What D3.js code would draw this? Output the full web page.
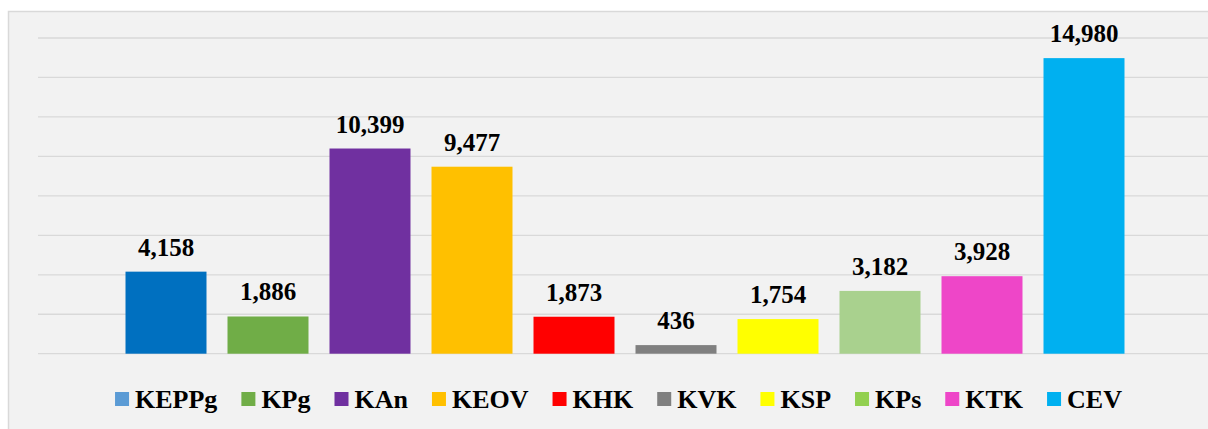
<!DOCTYPE html>
<html>
<head>
<meta charset="utf-8">
<script src="https://cdn.jsdelivr.net/npm/d3@7"></script>
<style>
  html, body { margin: 0; padding: 0; background: #fff; }
  svg { display: block; }
  svg text { font-family: 'Liberation Serif', 'Times New Roman', serif; font-weight: bold; fill: #000; }
</style>
</head>
<body>
<div id="chart"></div>
<script>
// ── Data ──
const categories = ['KEPPg', 'KPg', 'KAn', 'KEOV', 'KHK', 'KVK', 'KSP', 'KPs', 'KTK', 'CEV'];
const values = [4158, 1886, 10399, 9477, 1873, 436, 1754, 3182, 3928, 14980];
const barColors = ['#0070C0', '#70AD47', '#7030A0', '#FFC000', '#FF0000', '#808080', '#FFFF00', '#A9D18E', '#EE46C8', '#00B0F0'];
const legendColors = ['#5B9BD5', '#70AD47', '#7030A0', '#FFC000', '#FF0000', '#808080', '#FFFF00', '#92D050', '#EE46C8', '#00B0F0'];
const yTicks = [0, 2000, 4000, 6000, 8000, 10000, 12000, 14000, 16000];

const width = 1208, height = 429;

const svg = d3.select('#chart').append('svg')
    .attr('width', width)
    .attr('height', height);

// Chart area background + border (runs past the right/bottom edge)
svg.append('rect')
    .attr('x', 8.5).attr('y', 11.5)
    .attr('width', width + 10).attr('height', height + 10)
    .attr('fill', '#f2f2f2')
    .attr('stroke', '#d9d9d9')
    .attr('stroke-width', 1.5);

const x = d3.scaleBand()
    .domain(categories)
    .range([115, 1135])
    .paddingInner(0.206)
    .paddingOuter(0.103);

const y = d3.scaleLinear()
    .domain([0, 16000])
    .range([353.7, 38]);

// Gridlines
svg.append('g')
    .selectAll('line')
    .data(yTicks)
    .join('line')
    .attr('x1', 38).attr('x2', width + 5)
    .attr('y1', d => y(d)).attr('y2', d => y(d))
    .attr('stroke', '#d9d9d9')
    .attr('stroke-width', 1.3);

// Bars
svg.append('g')
    .selectAll('rect')
    .data(values)
    .join('rect')
    .attr('x', (d, i) => x(categories[i]))
    .attr('y', d => y(d))
    .attr('width', x.bandwidth())
    .attr('height', d => y(0) - y(d))
    .attr('fill', (d, i) => barColors[i]);

// Value labels
svg.append('g')
    .selectAll('text')
    .data(values)
    .join('text')
    .attr('x', (d, i) => x(categories[i]) + x.bandwidth() / 2)
    .attr('y', d => y(d) - 16)
    .attr('text-anchor', 'middle')
    .style('font-size', '25px')
    .text(d => d3.format(',')(d));

// Legend
const legend = svg.append('g');
const items = legend.selectAll('g')
    .data(categories)
    .join('g');
items.append('rect')
    .attr('width', 14).attr('height', 14)
    .attr('y', -7)
    .attr('fill', (d, i) => legendColors[i]);
items.append('text')
    .attr('x', 20)
    .attr('y', 8.5)
    .style('font-size', '26px')
    .text(d => d);

let cx = 0;
items.each(function () {
    const w = 20 + this.querySelector('text').getComputedTextLength();
    d3.select(this).attr('transform', `translate(${cx},0)`);
    cx += w + 24;
});
const total = cx - 24;
legend.attr('transform', `translate(${618.5 - total / 2}, 399)`);
</script>
</body>
</html>
